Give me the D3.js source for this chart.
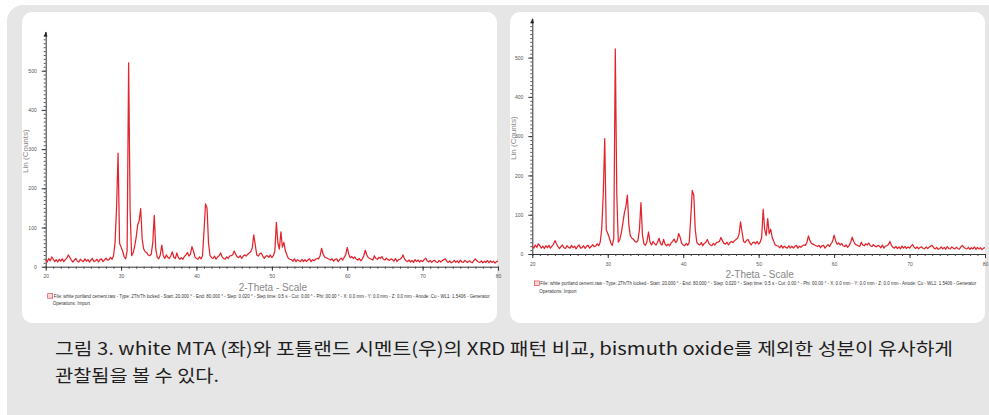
<!DOCTYPE html>
<html>
<head>
<meta charset="utf-8">
<script src="https://cdn.jsdelivr.net/npm/d3@7"></script>
<style>
  body { margin: 0; background: #fff; }
  svg { display: block; }
</style>
</head>
<body>
<div id="figure"></div>
<script>
// XRD scans, step 0.2 deg from 20 to 80 deg (2-theta)
var startAngle = 20, stepAngle = 0.2;

var whiteMTA = [
  18,12,21,15,25,19,13,18,12,19,
  14,20,13,18,22,30,24,17,12,17,
  21,14,12,19,15,13,20,14,18,12,
  17,21,13,15,19,12,18,20,13,17,
  22,17,18,24,19,28,62,150,290,60,
  50,40,26,20,40,520,140,28,35,52,
  75,106,118,148,70,45,38,36,30,28,
  32,60,131,45,24,20,30,55,28,21,
  30,24,21,28,38,24,21,35,23,19,
  23,19,26,30,36,27,32,51,40,25,
  21,19,25,20,28,90,160,150,60,28,
  23,21,27,19,25,28,35,25,21,19,
  25,21,27,28,30,40,32,25,23,28,
  21,27,30,27,32,35,38,48,81,55,
  30,27,33,35,27,21,27,28,24,30,
  23,28,40,113,60,45,89,50,62,40,
  30,21,19,18,14,20,13,18,15,13,
  19,13,18,13,17,20,13,18,15,19,
  21,20,28,47,32,25,23,21,19,17,
  20,14,19,20,13,18,22,17,24,30,
  49,32,23,26,21,25,19,17,21,15,
  20,28,42,30,23,21,19,17,28,21,
  19,24,21,26,19,17,22,18,16,20,
  18,14,21,13,18,19,22,30,20,15,
  13,17,12,16,11,18,13,17,12,16,
  13,18,22,15,12,16,11,15,16,12,
  11,16,12,15,18,20,14,11,15,10,
  12,16,11,15,10,17,12,11,16,13,
  11,15,12,10,16,20,15,12,11,15,
  10,14,11,16,10,15,11,14,9,13,14
];

var portlandCement = [
  20,15,23,17,26,21,15,20,14,21,
  16,22,15,20,24,34,26,19,14,19,
  23,16,14,21,17,15,22,16,20,13,
  19,23,15,16,21,14,20,22,15,19,
  24,19,20,26,21,30,64,150,294,62,
  52,42,28,22,40,522,150,30,37,54,
  78,104,120,150,72,46,40,38,32,30,
  34,62,131,48,26,22,32,56,30,23,
  32,26,23,30,40,26,23,37,25,21,
  25,21,28,32,38,29,34,52,42,27,
  23,21,27,22,30,92,162,150,62,30,
  25,23,29,21,27,30,37,27,23,21,
  27,23,29,30,32,42,34,27,25,30,
  23,29,32,29,34,37,40,50,82,56,
  32,29,35,37,29,23,29,30,26,32,
  25,30,42,114,62,47,90,52,63,42,
  32,23,21,20,16,22,15,20,17,15,
  21,15,20,15,19,22,15,20,17,21,
  23,22,30,46,34,27,25,23,21,19,
  22,16,21,22,15,20,24,19,26,32,
  48,34,25,28,23,27,21,19,23,17,
  22,30,43,32,25,23,21,19,30,23,
  21,26,23,28,21,19,24,20,18,22,
  20,16,23,15,20,21,24,32,22,17,
  15,19,14,18,13,20,15,19,14,18,
  15,20,24,17,14,18,13,17,18,14,
  13,18,14,17,20,22,16,13,17,12,
  14,18,13,17,12,19,14,13,18,15,
  13,17,14,12,18,22,17,14,13,17,
  12,16,13,18,12,17,13,16,11,15,16
];

var xTicks = [20, 30, 40, 50, 60, 70, 80];
var yTicks = [0, 100, 200, 300, 400, 500];
var legendLines = [
  "File: white portland cement.raw - Type: 2Th/Th locked - Start: 20.000 ° - End: 80.000 ° - Step: 0.020 ° - Step time: 0.5 s - Cut: 0.00 ° - Phi: 00.00 ° - X: 0.0 mm - Y: 0.0 mm - Z: 0.0 mm - Anode: Cu - WL1: 1.5406 - Generator",
  "Operations: Import"
];
var captionLines = [
  "그림 3. white MTA (좌)와 포틀랜드 시멘트(우)의 XRD 패턴 비교, bismuth oxide를 제외한 성분이 유사하게",
  "관찰됨을 볼 수 있다."
];

var W = 989, H = 415;
var svg = d3.select("#figure").append("svg").attr("width", W).attr("height", H);

// grey frame behind both panels
svg.append("rect").attr("x", 7).attr("y", 5).attr("width", 1000).attr("height", 430)
  .attr("rx", 16).attr("fill", "#e6e6e6");

// one XRD panel
function drawPanel(cfg) {
  var g = svg.append("g");
  g.append("rect").attr("x", cfg.box[0]).attr("y", cfg.box[1])
    .attr("width", cfg.box[2]).attr("height", cfg.box[3])
    .attr("rx", 10).attr("fill", "#fff");

  var x = d3.scaleLinear().domain([20, 80]).range([cfg.x0, cfg.x1]);
  var y = d3.scaleLinear().domain([0, 600]).range([cfg.y0, cfg.y1]);

  // x axis: minor every degree, major every 10
  g.append("g").attr("transform", "translate(0," + cfg.y0 + ")")
    .call(d3.axisBottom(x).tickValues(d3.range(20, 81, 1)).tickSize(2).tickFormat("").tickSizeOuter(0))
    .call(function (a) { a.select(".domain").attr("stroke", "#333"); a.selectAll("line").attr("stroke", "#444"); });
  g.append("g").attr("transform", "translate(0," + cfg.y0 + ")")
    .call(d3.axisBottom(x).tickValues(xTicks).tickSize(4).tickPadding(4).tickSizeOuter(0))
    .call(function (a) {
      a.select(".domain").remove();
      a.selectAll("line").attr("stroke", "#333");
      a.selectAll("text").attr("font-size", "5px").attr("fill", "#555").attr("font-family", "Arial, sans-serif");
    });

  // y axis: dense minor ticks, major every 100
  g.append("g").attr("transform", "translate(" + cfg.x0 + ",0)")
    .call(d3.axisLeft(y).tickValues(d3.range(0, 600, 10)).tickSize(2).tickFormat("").tickSizeOuter(0))
    .call(function (a) { a.select(".domain").attr("stroke", "#333"); a.selectAll("line").attr("stroke", "#555"); });
  g.append("g").attr("transform", "translate(" + cfg.x0 + ",0)")
    .call(d3.axisLeft(y).tickValues(yTicks).tickSize(4).tickPadding(5))
    .call(function (a) {
      a.select(".domain").remove();
      a.selectAll("line").attr("stroke", "#333");
      a.selectAll("text").attr("font-size", "5px").attr("fill", "#555").attr("font-family", "Arial, sans-serif");
    });

  // arrow on top of y axis
  g.append("path")
    .attr("d", "M" + (cfg.x0 - 1.8) + "," + (cfg.y1 + 5) + "L" + cfg.x0 + "," + cfg.y1 + "L" + (cfg.x0 + 1.8) + "," + (cfg.y1 + 5) + "Z")
    .attr("fill", "#222");

  // the scan
  var line = d3.line()
    .x(function (d, i) { return x(startAngle + i * stepAngle); })
    .y(function (d) { return y(d); });
  g.append("path").datum(cfg.data)
    .attr("d", line)
    .attr("fill", "none")
    .attr("stroke", "#e2252d")
    .attr("stroke-width", 1.25)
    .attr("stroke-linejoin", "round");

  // axis titles
  g.append("text").attr("x", (cfg.x0 + cfg.x1) / 2 + 1).attr("y", cfg.y0 + 24)
    .attr("text-anchor", "middle").attr("font-size", "10px").attr("fill", "#888")
    .attr("font-family", "Arial, sans-serif").text("2-Theta - Scale");
  g.append("text")
    .attr("transform", "translate(" + (cfg.box[0] + 6) + "," + ((cfg.y0 + cfg.y1) / 2 + 2) + ") rotate(-90)")
    .attr("text-anchor", "middle").attr("font-size", "8px").attr("fill", "#888")
    .attr("font-family", "Arial, sans-serif").text("Lin (Counts)");

  // legend
  var ly = cfg.y0 + 31;
  g.append("rect").attr("x", cfg.x0 + 2).attr("y", ly - 4).attr("width", 5).attr("height", 4.5)
    .attr("fill", "#fbdada").attr("stroke", "#e2252d").attr("stroke-width", 0.6);
  g.append("text").attr("x", cfg.x0 + 8).attr("y", ly).attr("font-size", "4.5px").attr("fill", "#333")
    .attr("font-family", "Arial, sans-serif").attr("textLength", 436).attr("lengthAdjust", "spacingAndGlyphs")
    .text(legendLines[0]);
  g.append("text").attr("x", cfg.x0 + 7).attr("y", ly + 7.5).attr("font-size", "4.5px").attr("fill", "#333")
    .attr("font-family", "Arial, sans-serif").text(legendLines[1]);
}

drawPanel({ box: [22, 12, 475, 311], x0: 45.7, x1: 498, y0: 266.7, y1: 31.5, data: whiteMTA });
drawPanel({ box: [510, 12, 475, 311], x0: 532.3, x1: 985, y0: 254, y1: 18.3, data: portlandCement });

// caption
svg.append("text").attr("x", 55).attr("y", 355).attr("font-size", "17px").attr("fill", "#1e1e1e")
  .attr("font-family", "'Noto Sans CJK KR', sans-serif")
  .attr("textLength", 898).attr("lengthAdjust", "spacingAndGlyphs").text(captionLines[0]);
svg.append("text").attr("x", 55).attr("y", 382).attr("font-size", "17px").attr("fill", "#1e1e1e")
  .attr("font-family", "'Noto Sans CJK KR', sans-serif")
  .attr("textLength", 164).attr("lengthAdjust", "spacingAndGlyphs").text(captionLines[1]);
</script>
</body>
</html>
